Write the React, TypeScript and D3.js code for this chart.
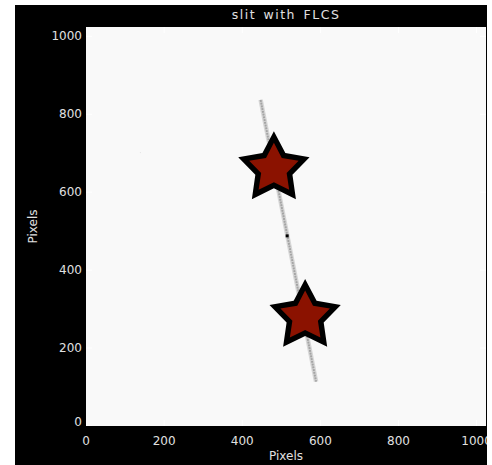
import React from "react";
import * as d3 from "d3";

const W = 492;
const H = 465;

// Data (image pixel coordinates, 1024x1024 detector)
const slitX = [447, 589];
const slitY = [837, 114];
const starX = [481, 561];
const starY = [660, 281];
const markX = [515];
const markY = [488];
const speckX = [138];
const speckY = [703];
const xTicks = [0, 200, 400, 600, 800, 1000];
const yTicks = [0, 200, 400, 600, 800, 1000];
const title = "slit with FLCS";
const xTitle = "Pixels";
const yTitle = "Pixels";

function starPath(cx: number, cy: number, R: number, r: number) {
  const pts: [number, number][] = [];
  for (let i = 0; i < 10; i++) {
    const a = (Math.PI / 5) * i - Math.PI / 2;
    const rad = i % 2 === 0 ? R : r;
    pts.push([cx + rad * Math.cos(a), cy + rad * Math.sin(a)]);
  }
  return d3.line()(pts)! + "Z";
}

export default function App() {
  const left = 86, right = 486, top = 27, bottom = 426;
  const x = d3.scaleLinear().domain([0, 1024]).range([left, right]);
  const y = d3.scaleLinear().domain([0, 1024]).range([bottom, top]);
  const font = "DejaVu Sans, sans-serif";
  const slitPts: [number, number][] = slitX.map((v, i) => [x(v), y(slitY[i])]);
  const line = d3.line();
  return (
    <svg
      width={W}
      height={H}
      style={{ position: "absolute", left: 0, top: 0 }}
    >
      <defs>
        <clipPath id="blackClip">
          <rect x={15} y={5} width={472} height={460} />
        </clipPath>
        <clipPath id="plotClip">
          <rect x={left} y={top} width={right - left} height={bottom - top} />
        </clipPath>
      </defs>
      <rect x={0} y={0} width={W} height={H} fill="#ffffff" />
      <rect x={15} y={5} width={472} height={460} fill="#000000" />
      <rect x={left} y={top} width={right - left} height={bottom - top} fill="#f9f9f9" />
      {/* slit */}
      <path d={line(slitPts)!} stroke="#d6d6d6" strokeWidth={4.5} fill="none" />
      <path d={line(slitPts)!} stroke="#a4a4a4" strokeWidth={2} strokeDasharray="2,0.8" fill="none" />
      {markX.map((v, i) => (
        <rect key={"m" + i} x={x(v) - 1.5} y={y(markY[i]) - 1.5} width={3} height={3} fill="#000" />
      ))}
      {speckX.map((v, i) => (
        <rect key={"s" + i} x={x(v)} y={y(speckY[i])} width={1} height={1} fill="#e4e4e4" />
      ))}
      {starX.map((v, i) => (
        <g key={"st" + i}>
          <path d={starPath(x(v), y(starY[i]), 37.5, 19.5)} fill="#000" />
          <path d={starPath(x(v), y(starY[i]), 26, 13.4)} fill="#8b1200" />
        </g>
      ))}
      {/* faint ticks */}
      <g clipPath="url(#plotClip)">
        {xTicks.map((t) => (
          <g key={"xt" + t}>
            <line x1={x(t)} x2={x(t)} y1={bottom} y2={bottom - 6} stroke="#fff" />
            <line x1={x(t)} x2={x(t)} y1={top} y2={top + 6} stroke="#fff" />
          </g>
        ))}
        {yTicks.map((t) => (
          <g key={"yt" + t}>
            <line x1={left} x2={left + 6} y1={y(t)} y2={y(t)} stroke="#fff" />
            <line x1={right} x2={right - 6} y1={y(t)} y2={y(t)} stroke="#fff" />
          </g>
        ))}
      </g>
      <g clipPath="url(#blackClip)">
        {xTicks.map((t) => (
          <text key={"xl" + t} x={x(t)} y={445} textAnchor="middle" fontFamily={font} fontSize={12} fill="#e0e0e0">
            {t}
          </text>
        ))}
      </g>
      {yTicks.map((t) => (
        <text key={"yl" + t} x={82} y={y(t) + (t === 0 ? 0 : 4)} textAnchor="end" fontFamily={font} fontSize={12} fill="#e0e0e0">
          {t}
        </text>
      ))}
      <text x={286} y={19} textAnchor="middle" fontFamily={font} fontSize={12.5} letterSpacing={1.5} wordSpacing={2} fill="#e0e0e0">
        {title}
      </text>
      <text x={286} y={460} textAnchor="middle" fontFamily={font} fontSize={12} fill="#e0e0e0">
        {xTitle}
      </text>
      <text transform={`translate(37,${(top + bottom) / 2}) rotate(-90)`} textAnchor="middle" fontFamily={font} fontSize={12} fill="#e0e0e0">
        {yTitle}
      </text>
    </svg>
  );
}
